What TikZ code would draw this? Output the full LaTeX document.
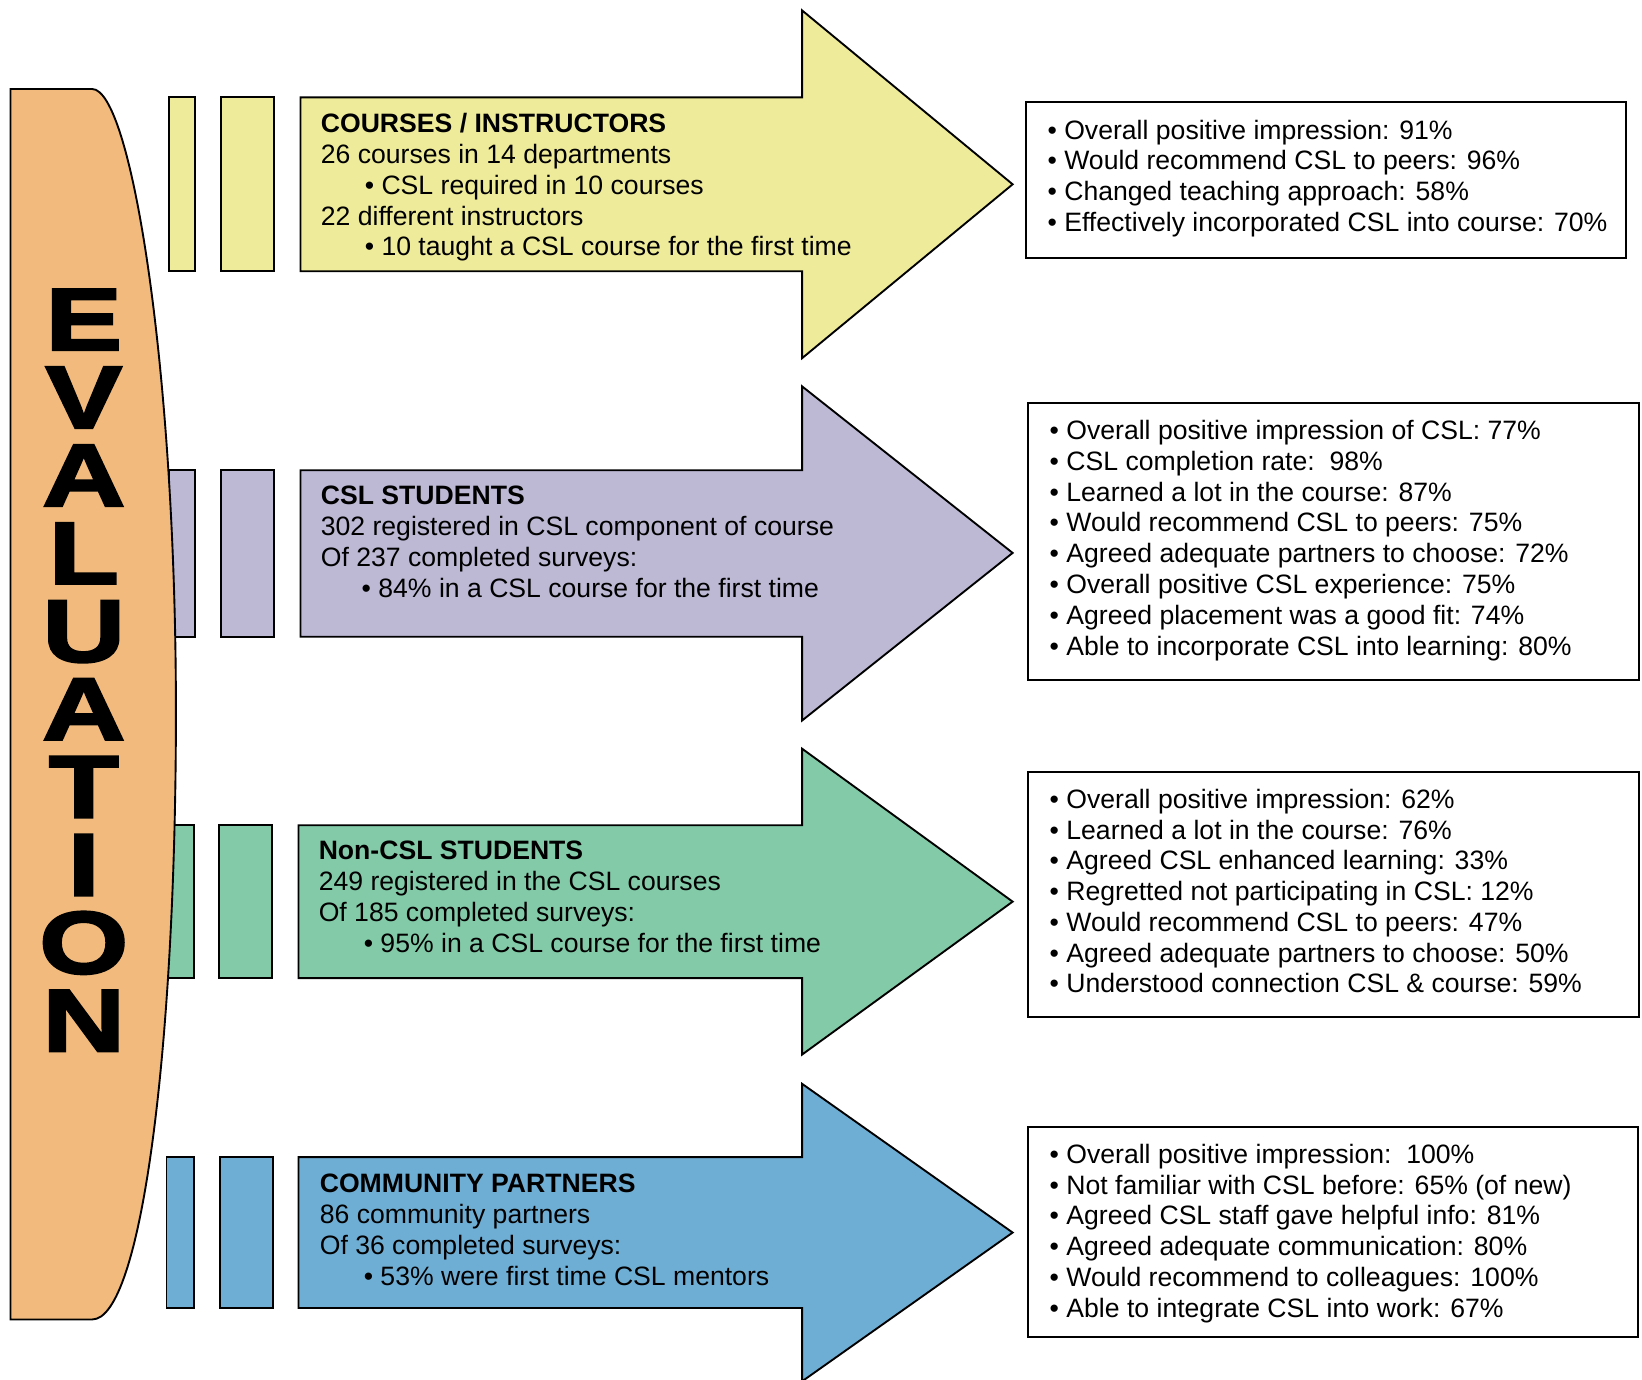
\documentclass[tikz,border=0pt]{standalone}
\usepackage{fontspec}
\setmainfont{Liberation Sans}
\newfontfamily\evalfont[FakeStretch=1.3,FakeBold=3]{Liberation Sans}

\definecolor{evalorange}{RGB}{242,187,125}
\definecolor{crsyellow}{RGB}{238,235,154}
\definecolor{stulilac}{RGB}{189,184,212}
\definecolor{nongreen}{RGB}{130,202,168}
\definecolor{partblue}{RGB}{111,174,212}

\begin{document}
\begin{tikzpicture}[x=.5pt,y=-.5pt,
  strip/.style={draw=black,line width=.9pt},
  txt/.style={anchor=north west,inner sep=0pt,align=left,font=\fontsize{12.7}{14.7}\selectfont}]
\clip (0,0) rectangle (1568,1317);
\path[strip,fill=crsyellow] (161,93) rectangle (186,259);
\path[strip,fill=stulilac] (161,449) rectangle (186,608);
\path[strip,fill=nongreen] (160,788) rectangle (185,934);
\path[strip,fill=partblue] (159,1105) rectangle (185,1249);
\path[strip,fill=evalorange] (10,85) -- (88,85) .. controls (125,85) and (168,350) .. (168,680) .. controls (168,1000) and (135,1260) .. (88,1260) -- (10,1260) -- cycle;
\node[align=center,inner sep=0pt,font=\evalfont\bfseries\fontsize{42}{37.2}\selectfont] (eval) at (80,640) {E\\V\\A\\L\\U\\A\\T\\I\\O\\N};
\path[strip,fill=crsyellow] (211,93) rectangle (262,259);
\path[strip,fill=crsyellow] (287,93) -- (766,93) -- (766,10) -- (967,176) -- (766,342) -- (766,259) -- (287,259) -- cycle;
\node[txt] (courses) at (306,108) {\textbf{COURSES / INSTRUCTORS}\\26 courses in 14 departments\\\hspace*{21pt}• CSL required in 10 courses\\22 different instructors\\\hspace*{21pt}• 10 taught a CSL course for the first time};
\path[strip,fill=stulilac] (211,449) rectangle (262,608);
\path[strip,fill=stulilac] (287,449) -- (766,449) -- (766,369) -- (967,528) -- (766,688) -- (766,608) -- (287,608) -- cycle;
\node[txt] (cslstud) at (306,464) {\textbf{CSL STUDENTS}\\302 registered in CSL component of course\\Of 237 completed surveys:\\\hspace*{19.5pt}• 84\% in a CSL course for the first time};
\path[strip,fill=nongreen] (209,788) rectangle (260,934);
\path[strip,fill=nongreen] (285,788) -- (766,788) -- (766,715) -- (967,861) -- (766,1007) -- (766,934) -- (285,934) -- cycle;
\node[txt] (noncsl) at (304,803) {\textbf{Non-CSL STUDENTS}\\249 registered in the CSL courses\\Of 185 completed surveys:\\\hspace*{21.5pt}• 95\% in a CSL course for the first time};
\path[strip,fill=partblue] (210,1105) rectangle (261,1249);
\path[strip,fill=partblue] (285,1105) -- (766,1105) -- (766,1035) -- (967,1177) -- (766,1319) -- (766,1249) -- (285,1249) -- cycle;
\node[txt] (partners) at (305,1121) {\textbf{COMMUNITY PARTNERS}\\86 community partners\\Of 36 completed surveys:\\\hspace*{21pt}• 53\% were first time CSL mentors};
\path[strip,fill=white] (980,97) rectangle (1553,246);
\node[txt] (res1) at (1000,114) {• Overall positive impression: 91\%\\• Would recommend CSL to peers: 96\%\\• Changed teaching approach: 58\%\\• Effectively incorporated CSL into course: 70\%};
\path[strip,fill=white] (982,385) rectangle (1565,649);
\node[txt] (res2) at (1002,401) {• Overall positive impression of CSL: 77\%\\• CSL completion rate:\ \ 98\%\\• Learned a lot in the course: 87\%\\• Would recommend CSL to peers: 75\%\\• Agreed adequate partners to choose: 72\%\\• Overall positive CSL experience: 75\%\\• Agreed placement was a good fit: 74\%\\• Able to incorporate CSL into learning: 80\%};
\path[strip,fill=white] (982,737) rectangle (1565,971);
\node[txt] (res3) at (1002,753) {• Overall positive impression: 62\%\\• Learned a lot in the course: 76\%\\• Agreed CSL enhanced learning: 33\%\\• Regretted not participating in CSL: 12\%\\• Would recommend CSL to peers: 47\%\\• Agreed adequate partners to choose: 50\%\\• Understood connection CSL \& course: 59\%};
\path[strip,fill=white] (982,1076) rectangle (1564,1277);
\node[txt] (res4) at (1002,1092) {• Overall positive impression:\ \ 100\%\\• Not familiar with CSL before: 65\% (of new)\\• Agreed CSL staff gave helpful info: 81\%\\• Agreed adequate communication: 80\%\\• Would recommend to colleagues: 100\%\\• Able to integrate CSL into work: 67\%};
\end{tikzpicture}
\end{document}
